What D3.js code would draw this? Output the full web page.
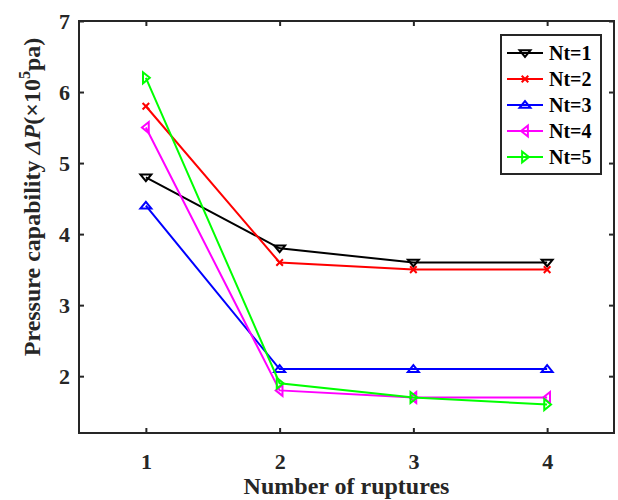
<!DOCTYPE html>
<html>
<head>
<meta charset="utf-8">
<script src="https://cdn.jsdelivr.net/npm/d3@7"></script>
<style>
  html, body { margin: 0; padding: 0; background: #fff; }
  svg { display: block; }
  svg text { font-family: "Liberation Serif", "Times New Roman", serif; font-weight: bold; }
</style>
</head>
<body>
<svg id="chart" width="618" height="500"></svg>
<script>
// Pressure capability vs. number of ruptures, one series per Nt
const ruptures = [1, 2, 3, 4];
const seriesNames = ["Nt=1", "Nt=2", "Nt=3", "Nt=4", "Nt=5"];
const nt1 = [4.8, 3.8, 3.6, 3.6];
const nt2 = [5.8, 3.6, 3.5, 3.5];
const nt3 = [4.4, 2.1, 2.1, 2.1];
const nt4 = [5.5, 1.8, 1.7, 1.7];
const nt5 = [6.2, 1.9, 1.7, 1.6];
const xTicks = [1, 2, 3, 4];
const yTicks = [2, 3, 4, 5, 6, 7];

const seriesValues = [nt1, nt2, nt3, nt4, nt5];
const colors = ["#000000", "#ff0000", "#0000ff", "#ff00ff", "#00ff00"];
const markers = ["down", "cross", "up", "left", "right"];

const axisColor = "#262626";
const serif = "'Liberation Serif', 'Times New Roman', serif";
const plot = { left: 79, right: 614, top: 21, bottom: 433 };

const svg = d3.select("#chart");

const x = d3.scaleLinear().domain([0.5, 4.5]).range([plot.left, plot.right]);
const y = d3.scaleLinear().domain([1.2, 7]).range([plot.bottom, plot.top]);

// Marker shapes (centred on 0,0)
function markerPath(kind, s) {
  const h = s * 0.95;
  switch (kind) {
    case "down":  return `M${-s},${-h * 0.55}L${s},${-h * 0.55}L0,${h * 0.75}Z`;
    case "up":    return `M${-s},${h * 0.55}L${s},${h * 0.55}L0,${-h * 0.75}Z`;
    case "left":  return `M${h * 0.55},${-s}L${h * 0.55},${s}L${-h * 0.75},0Z`;
    case "right": return `M${-h * 0.55},${-s}L${-h * 0.55},${s}L${h * 0.75},0Z`;
    case "cross": { const c = s * 0.6; return `M${-c},${-c}L${c},${c}M${-c},${c}L${c},${-c}`; }
  }
}

// Axes with inward ticks
const tickLen = 5;
const gx = svg.append("g").attr("transform", `translate(0,${plot.bottom})`)
  .call(d3.axisBottom(x).tickValues(xTicks).tickFormat(d3.format("d"))
    .tickSize(-tickLen).tickSizeOuter(0).tickPadding(20));
const gxTop = svg.append("g").attr("transform", `translate(0,${plot.top})`)
  .call(d3.axisTop(x).tickValues(xTicks).tickFormat("")
    .tickSize(-tickLen).tickSizeOuter(0));
const gy = svg.append("g").attr("transform", `translate(${plot.left},0)`)
  .call(d3.axisLeft(y).tickValues(yTicks).tickFormat(d3.format("d"))
    .tickSize(-tickLen).tickSizeOuter(0).tickPadding(9));
const gyRight = svg.append("g").attr("transform", `translate(${plot.right},0)`)
  .call(d3.axisRight(y).tickValues(yTicks).tickFormat("")
    .tickSize(-tickLen).tickSizeOuter(0));

[gx, gxTop, gy, gyRight].forEach(g => {
  g.attr("font-family", serif).attr("font-size", 22);
  g.select(".domain").remove();
  g.selectAll(".tick line").attr("stroke", axisColor).attr("stroke-width", 2);
  g.selectAll(".tick text")
    .attr("fill", axisColor)
    .style("font-family", serif)
    .style("font-size", "22px")
    .style("font-weight", "bold");
});

// Axes box
svg.append("rect")
  .attr("x", plot.left).attr("y", plot.top)
  .attr("width", plot.right - plot.left).attr("height", plot.bottom - plot.top)
  .attr("fill", "none").attr("stroke", axisColor).attr("stroke-width", 2);

// Series lines and markers
const line = d3.line().x((d, i) => x(ruptures[i])).y(d => y(d));
seriesValues.forEach((vals, k) => {
  const g = svg.append("g");
  g.append("path")
    .attr("d", line(vals))
    .attr("fill", "none")
    .attr("stroke", colors[k])
    .attr("stroke-width", 2);
  g.selectAll("path.mk").data(vals).join("path")
    .attr("class", "mk")
    .attr("transform", (d, i) => `translate(${x(ruptures[i])},${y(d)})`)
    .attr("d", markerPath(markers[k], 5.5))
    .attr("fill", "none")
    .attr("stroke", colors[k])
    .attr("stroke-width", 2);
});

// Axis titles
svg.append("text")
  .attr("x", (plot.left + plot.right) / 2)
  .attr("y", 494)
  .attr("text-anchor", "middle")
  .style("font-size", "24px")
  .attr("fill", axisColor)
  .text("Number of ruptures");

const yt = svg.append("text")
  .attr("transform", "translate(40,197) rotate(-90)")
  .attr("text-anchor", "middle")
  .style("font-size", "24px")
  .attr("fill", axisColor);
yt.append("tspan").text("Pressure capability ");
yt.append("tspan").style("font-style", "italic").text("ΔP");
yt.append("tspan").text("(×10");
yt.append("tspan").style("font-size", "16px").attr("dy", -10).text("5");
yt.append("tspan").attr("dy", 10).text("pa)");

// Legend
const legend = { x: 501, y: 35, w: 100, h: 139 };
svg.append("rect")
  .attr("x", legend.x).attr("y", legend.y)
  .attr("width", legend.w).attr("height", legend.h)
  .attr("fill", "#fff").attr("stroke", axisColor).attr("stroke-width", 2);
const rowY = d3.scalePoint().domain(seriesNames).range([53, 157]);
seriesNames.forEach((name, k) => {
  const cy = rowY(name);
  svg.append("line")
    .attr("x1", 507).attr("x2", 543).attr("y1", cy).attr("y2", cy)
    .attr("stroke", colors[k]).attr("stroke-width", 2);
  svg.append("path")
    .attr("transform", `translate(525,${cy})`)
    .attr("d", markerPath(markers[k], 5.5))
    .attr("fill", "none").attr("stroke", colors[k]).attr("stroke-width", 2);
  svg.append("text")
    .attr("x", 549).attr("y", cy).attr("dy", "0.35em")
    .style("font-size", "20px")
    .attr("fill", "#000")
    .text(name);
});
</script>
</body>
</html>
